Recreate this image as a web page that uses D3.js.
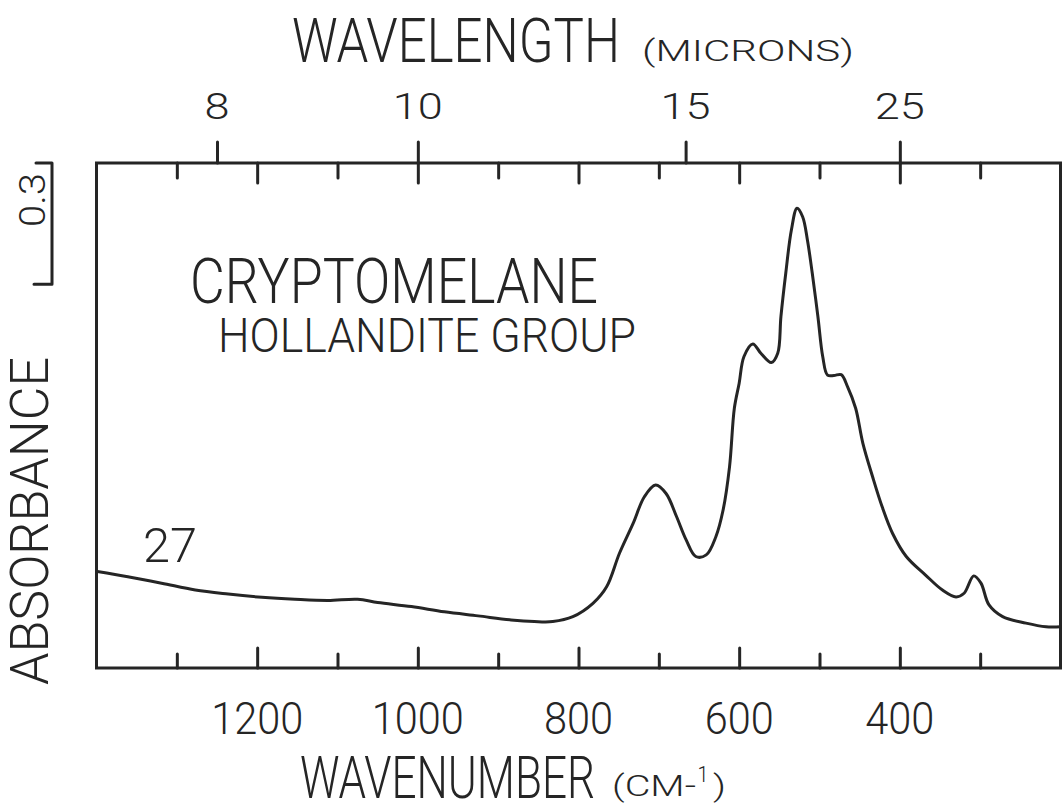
<!DOCTYPE html>
<html>
<head>
<meta charset="utf-8">
<script src="https://cdn.jsdelivr.net/npm/d3@7"></script>
<style>
  html, body { margin: 0; padding: 0; background: #fff; }
  svg { display: block; }
</style>
</head>
<body>
<svg id="chart" width="1062" height="804"></svg>
<script>
// Infrared absorbance spectrum of cryptomelane (hollandite group)
const wavenumber = [1399, 1361, 1319, 1277, 1236, 1194, 1153, 1112, 1075, 1050,
  1008, 967, 925, 884, 855, 832, 807, 782, 765, 749,
  732, 718, 704, 691, 678, 666, 654, 641, 629, 620,
  612, 606, 600, 594, 583, 573, 560, 552, 548, 542,
  535, 528, 521, 515, 509, 502, 496, 490, 482, 473,
  465, 455, 446, 434, 422, 409, 392, 368, 347, 330,
  320, 308, 299, 289, 272, 243, 218, 200];
const absorbance = [0.239, 0.226, 0.210, 0.193, 0.183, 0.175, 0.170, 0.167, 0.170, 0.162,
  0.152, 0.139, 0.129, 0.119, 0.115, 0.115, 0.127, 0.160, 0.201, 0.284,
  0.358, 0.424, 0.453, 0.432, 0.375, 0.317, 0.276, 0.280, 0.325, 0.391,
  0.498, 0.643, 0.705, 0.771, 0.802, 0.779, 0.756, 0.779, 0.870, 0.977,
  1.084, 1.138, 1.117, 1.059, 0.977, 0.870, 0.771, 0.725, 0.724, 0.726,
  0.696, 0.643, 0.556, 0.474, 0.399, 0.333, 0.276, 0.230, 0.193, 0.176,
  0.185, 0.228, 0.210, 0.156, 0.127, 0.111, 0.102, 0.102];

const wnTicks = [1300, 1200, 1100, 1000, 900, 800, 700, 600, 500, 400, 300];
const wnLabels = [1200, 1000, 800, 600, 400];
const micronLabels = [8, 10, 15, 25];
const scaleBarValue = 0.3;

const ink = "#252525";
const font = "Roboto, 'Open Sans', 'DejaVu Sans', sans-serif";

const svg = d3.select("#chart");
const x = d3.scaleLinear().domain([1400, 200]).range([96.5, 1060.5]);
const y = d3.scaleLinear().domain([0, 1.25]).range([668, 163]);

// Text helper: cap height in px, forced width via textLength
function label(g, str, cx, by, cap, width, opts = {}) {
  const t = g.append("text")
    .attr("x", cx).attr("y", by)
    .attr("font-family", font)
    .attr("font-weight", 300)
    .attr("font-size", cap / 0.711)
    .attr("fill", ink)
    .attr("text-anchor", opts.anchor || "middle")
    .attr("textLength", width)
    .attr("lengthAdjust", "spacingAndGlyphs")
    .text(str);
  if (opts.rotate) t.attr("transform", `rotate(${opts.rotate},${cx},${by})`);
  return t;
}

const g = svg.append("g");

// Frame
g.append("rect")
  .attr("x", x.range()[0]).attr("y", y.range()[1])
  .attr("width", x.range()[1] - x.range()[0])
  .attr("height", y.range()[0] - y.range()[1])
  .attr("fill", "none").attr("stroke", ink).attr("stroke-width", 3);

// Axis ticks (wavenumber, bottom and top, pointing inward)
const even = wnTicks.filter(d => d % 200 === 0);
const odd = wnTicks.filter(d => d % 200 !== 0);
function tickAxis(axisFn, values, size, ty) {
  const a = g.append("g").attr("transform", `translate(0,${ty})`)
    .call(axisFn(x).tickValues(values).tickSize(size).tickFormat(""));
  a.select(".domain").remove();
  a.selectAll("line").attr("stroke", ink).attr("stroke-width", 3).attr("stroke-linecap", "round");
}
tickAxis(d3.axisBottom, even, -20, y.range()[0]);
tickAxis(d3.axisBottom, odd, -14, y.range()[0]);
tickAxis(d3.axisTop, even, -20, y.range()[1]);
tickAxis(d3.axisTop, odd, -15, y.range()[1]);
// Wavelength ticks (outward)
tickAxis(d3.axisTop, micronLabels.map(m => 1e4 / m), 21, y.range()[1]);

// Tick labels
wnLabels.forEach(w => label(g, String(w), x(w), 734, 31, String(w).length * 23));
micronLabels.forEach(m => label(g, String(m), x(1e4 / m), 119, 26, String(m).length * 25));

// Axis titles
label(g, "WAVELENGTH", 292, 62, 44, 328, { anchor: "start" });
label(g, "(MICRONS)", 642, 61, 21, 212, { anchor: "start" });
label(g, "WAVENUMBER", 300, 798, 42, 295, { anchor: "start" });
label(g, "(CM-", 612, 796, 21, 84, { anchor: "start" });
label(g, "1", 703, 782, 16, 11);
label(g, ")", 713, 796, 21, 13, { anchor: "start" });

label(g, "ABSORBANCE", 48, 521, 38, 328, { rotate: -90 });

// Absorbance scale bar
const barX = 52;
g.append("path")
  .attr("d", `M${barX - 16},${y(1.25)}H${barX}V${y(1.25 - scaleBarValue)}H${barX - 18}`)
  .attr("fill", "none").attr("stroke", ink).attr("stroke-width", 3)
  .attr("stroke-linejoin", "round").attr("stroke-linecap", "round");
label(g, scaleBarValue.toFixed(1), 45, 200, 26, 54, { rotate: -90 });

// Sample annotations
label(g, "CRYPTOMELANE", 190, 303, 45, 408, { anchor: "start" });
label(g, "HOLLANDITE GROUP", 218, 352, 34, 418, { anchor: "start" });
label(g, "27", 143, 562, 34, 54, { anchor: "start" });

// Spectrum
const pts = wavenumber.map((w, i) => [w, absorbance[i]]);
g.append("path")
  .datum(pts)
  .attr("d", d3.line().x(d => x(d[0])).y(d => y(d[1])).curve(d3.curveCatmullRom.alpha(0.5)))
  .attr("fill", "none").attr("stroke", ink).attr("stroke-width", 3)
  .attr("stroke-linejoin", "round").attr("stroke-linecap", "round");
</script>
</body>
</html>
